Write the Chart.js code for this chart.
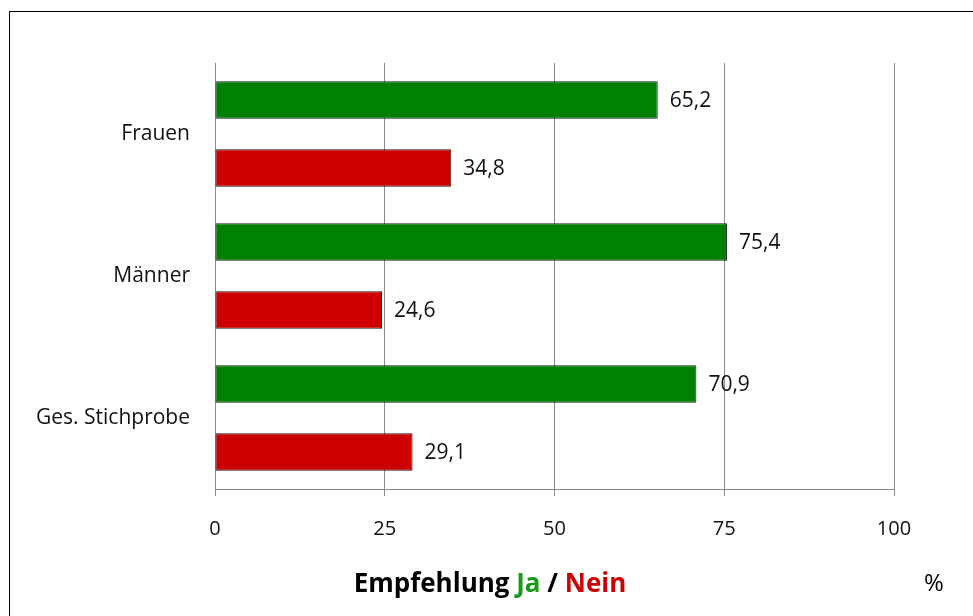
<!DOCTYPE html>
<html>
<head>
<meta charset="utf-8">
<script src="https://cdn.jsdelivr.net/npm/chart.js@4"></script>
<style>
  html, body { margin: 0; padding: 0; background: #fff; overflow: hidden; }
  #wrap { position: relative; width: 973px; height: 616px; }
  #frame { position: absolute; left: 9px; top: 11px; width: 1000px; height: 700px; border: 1px solid #000; box-sizing: border-box; }
  canvas { position: absolute; left: 0; top: 0; }
  #title { position: absolute; left: 0; width: 980px; top: 564px; text-align: center; font-family: "Open Sans", sans-serif; font-weight: bold; font-size: 26px; color: #000; line-height: 36px; }
  #pct { position: absolute; left: 924px; top: 564px; font-family: "Open Sans", sans-serif; font-size: 24px; color: #000; line-height: 36px; }
</style>
</head>
<body>
<div id="wrap">
  <div id="frame"></div>
  <canvas id="c" width="973" height="616"></canvas>
  <div id="title">Empfehlung <span style="color:#1a9a1a">Ja</span> / <span style="color:#cc0000">Nein</span></div>
  <div id="pct">%</div>
</div>
<script>
const categories = ["Frauen", "Männer", "Ges. Stichprobe"];
const jaValues = [65.2, 75.4, 70.9];
const neinValues = [34.8, 24.6, 29.1];
const xTicks = [0, 25, 50, 75, 100];

const fmt = v => v.toFixed(1).replace('.', ',');
const FONT = '"Open Sans", sans-serif';

const valueLabels = {
  id: 'valueLabels',
  afterDatasetsDraw(chart) {
    const ctx = chart.ctx;
    ctx.save();
    ctx.font = '21px ' + FONT;
    ctx.fillStyle = '#111';
    ctx.textAlign = 'left';
    ctx.textBaseline = 'middle';
    chart.data.datasets.forEach((ds, di) => {
      chart.getDatasetMeta(di).data.forEach((el, i) => {
        ctx.fillText(fmt(ds.data[i]), el.x + 12, el.y + 1);
      });
    });
    ctx.restore();
  }
};

new Chart(document.getElementById('c'), {
  type: 'bar',
  data: {
    labels: categories,
    datasets: [
      { label: 'Ja', data: jaValues, backgroundColor: '#008000', borderColor: '#1b1b1b', borderWidth: 1, borderSkipped: false, categoryPercentage: 0.96, barPercentage: 0.55 },
      { label: 'Nein', data: neinValues, backgroundColor: '#cc0000', borderColor: '#1b1b1b', borderWidth: 1, borderSkipped: false, categoryPercentage: 0.96, barPercentage: 0.55 }
    ]
  },
  options: {
    indexAxis: 'y',
    responsive: false,
    animation: false,
    devicePixelRatio: 1,
    layout: { padding: { left: 0, top: 63, right: 79, bottom: 0 } },
    plugins: { legend: { display: false }, tooltip: { enabled: false }, title: { display: false } },
    scales: {
      x: {
        min: 0, max: 100,
        afterBuildTicks: s => { s.ticks = xTicks.map(v => ({ value: v })); },
        afterFit: s => { s.height = 127; },
        grid: { color: '#8a8a8a', lineWidth: 1, tickLength: 7, drawTicks: true },
        border: { color: '#8a8a8a', width: 1 },
        ticks: { font: { family: FONT, size: 20 }, color: '#111', padding: 21, maxRotation: 0 }
      },
      y: {
        afterFit: s => { s.width = 215; },
        grid: { display: false, drawTicks: false },
        border: { color: '#8a8a8a', width: 1 },
        ticks: { font: { family: FONT, size: 21 }, color: '#111', padding: 25 }
      }
    }
  },
  plugins: [valueLabels]
});
</script>
</body>
</html>
